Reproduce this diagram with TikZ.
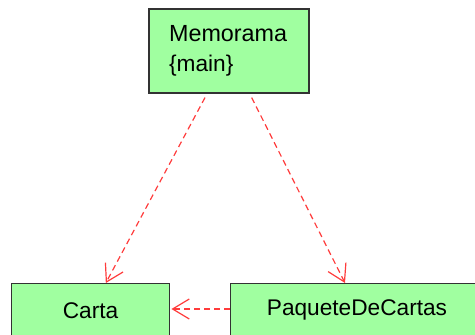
\documentclass[tikz,border=0pt]{standalone}
\usepackage{fontspec}
\setmainfont{Liberation Sans}
\usetikzlibrary{arrows.meta}
\definecolor{classgreen}{RGB}{160,255,160}
\definecolor{depred}{RGB}{255,60,60}

\begin{document}
\begin{tikzpicture}[
			     x=0.75pt, y=-0.75pt,
			     font=\fontsize{17}{22.5}\selectfont,
			     class/.style={draw=black!80, fill=classgreen, line width=0.9pt, inner sep=0pt},
			     dep line/.style={draw=depred, line width=0.9pt, dash pattern=on 4.5pt off 3pt,
			                      -{Straight Barb[length=12.5pt,width=15pt]}}
			     ]
\useasboundingbox (0,0) rectangle (475,335);
\node[class, minimum width=120pt, minimum height=63pt] (mem) at (229,51) {};
\node[anchor=west, align=left] (memtext) at (mem.west) [xshift=12pt] {\fontsize{17.5}{23}\selectfont Memorama\\\{main\}};
\node[class, minimum width=119pt, minimum height=40pt, anchor=north] (carta) at (90.5,283) {Carta};
\node[class, minimum width=190pt, minimum height=40pt, anchor=north] (paquete) at (357,283) {PaqueteDeCartas};
\path ([xshift=-18pt,yshift=-3pt]mem.south) edge[dep line] ([xshift=11.5pt]carta.north);
\path ([xshift=17pt,yshift=-3pt]mem.south) edge[dep line] ([xshift=-9pt]paquete.north);
\path ([yshift=-19.5pt]paquete.north west) edge[dep line] ([yshift=-19.5pt,xshift=0.75pt]carta.north east);
\end{tikzpicture}
\end{document}
